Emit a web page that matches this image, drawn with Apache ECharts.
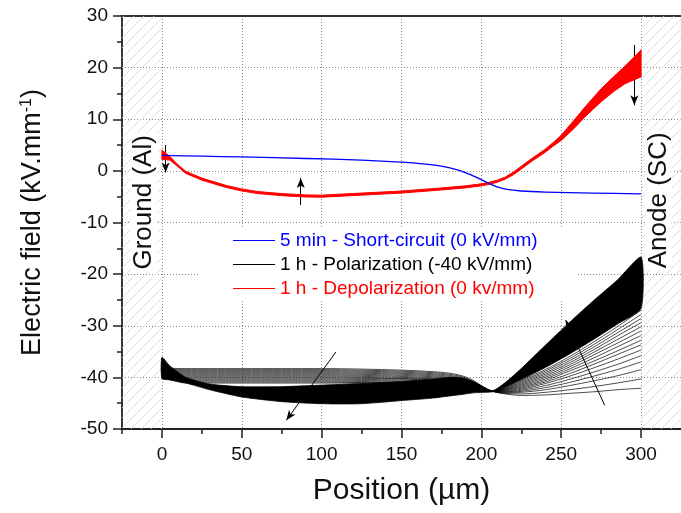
<!DOCTYPE html>
<html><head><meta charset="utf-8">
<script src="https://cdn.jsdelivr.net/npm/echarts@6/dist/echarts.min.js"></script>
<style>html,body{margin:0;padding:0;background:#fff}#c{width:681px;height:513px}</style>
</head><body><div id="c"></div>
<script>
// ---------------- data ----------------
const xTickValues = [0, 50, 100, 150, 200, 250, 300];
const xMinorTickValues = [-25, 25, 75, 125, 175, 225, 275];

const seriesNames = ['5 min - Short-circuit (0 kV/mm)', '1 h - Polarization (-40 kV/mm)', '1 h - Depolarization (0 kv/mm)'];

// 5 min short-circuit (blue)
const blueX = [0, 25, 50, 90, 125, 150, 165, 175, 185, 192, 198, 204, 210, 216, 225, 240, 270, 300];
const blueY = [3.0, 2.85, 2.7, 2.4, 2.1, 1.7, 1.3, 0.9, 0.2, -0.6, -1.4, -2.3, -3.1, -3.6, -3.9, -4.1, -4.3, -4.45];

// 1 h depolarization (red band of curves: upper / lower envelope)
const redX     = [0, 5, 10, 15, 25, 40, 50, 60, 75, 90, 100, 125, 150, 175, 190, 200, 205, 210, 215, 220, 225, 232, 240, 245, 250, 258, 265, 275, 283, 290, 300];
const redUpper = [4.0, 2.8, 1.2, -0.1, -1.4, -2.8, -3.5, -4.0, -4.4, -4.65, -4.7, -4.3, -3.9, -3.3, -2.9, -2.5, -2.2, -1.8, -1.2, -0.25, 0.9, 2.5, 4.2, 5.5, 6.9, 9.8, 12.4, 15.9, 18.3, 20.3, 23.4];
const redLower = [2.2, 2.1, 0.8, -0.5, -1.8, -3.2, -3.9, -4.4, -4.8, -5.05, -5.1, -4.7, -4.3, -3.7, -3.3, -2.9, -2.6, -2.2, -1.6, -0.75, 0.35, 1.95, 3.6, 4.8, 5.9, 8.2, 10.5, 13.4, 15.4, 16.9, 18.2];

// 1 h polarization (black family)
const polX = [0, 5, 15, 30, 50, 75, 100, 125, 150, 170, 180, 188, 195, 201, 207, 215, 225, 240, 255, 270, 285, 300];
// dense core of the family (upper / lower envelope)
const polCoreTop = [-36.1, -37.8, -40.0, -41.3, -41.8, -41.8, -41.5, -41.2, -40.8, -40.3, -40.0, -40.1, -40.8, -41.8, -42.6, -41.0, -38.3, -33.8, -29.4, -25.2, -21.2, -16.7];
const polCoreBottom = [-40.2, -40.5, -41.1, -42.4, -43.8, -44.7, -45.1, -45.1, -44.5, -44.0, -43.6, -43.3, -43.0, -42.9, -42.8, -41.8, -40.4, -38.1, -35.5, -32.7, -29.7, -26.6];
// individually visible curves
const pol01 = [-37.0, -38.2, -38.3, -38.3, -38.3, -38.3, -38.3, -38.4, -38.6, -38.9, -39.2, -39.7, -40.6, -41.8, -42.7, -43.2, -43.5, -43.4, -43.1, -42.8, -42.4, -42.1];
const pol02 = [-37.2, -38.4, -38.5, -38.5, -38.5, -38.5, -38.5, -38.6, -38.8, -39.1, -39.4, -39.9, -40.8, -41.9, -42.7, -43.1, -43.2, -42.9, -42.4, -41.8, -41.1, -40.3];
const pol03 = [-37.4, -38.6, -38.7, -38.7, -38.7, -38.7, -38.7, -38.8, -39.0, -39.3, -39.6, -40.1, -40.9, -42.0, -42.7, -43.0, -42.9, -42.4, -41.6, -40.7, -39.7, -38.5];
const pol04 = [-37.6, -38.8, -38.9, -38.9, -38.9, -38.9, -38.9, -39.0, -39.2, -39.5, -39.8, -40.3, -41.0, -42.0, -42.7, -42.9, -42.7, -42.0, -41.0, -39.8, -38.5, -37.0];
const pol05 = [-37.8, -39.0, -39.1, -39.1, -39.1, -39.1, -39.1, -39.2, -39.4, -39.7, -40.0, -40.4, -41.1, -42.1, -42.7, -42.8, -42.5, -41.6, -40.4, -39.0, -37.5, -35.8];
const pol06 = [-38.0, -39.2, -39.3, -39.3, -39.3, -39.3, -39.3, -39.4, -39.6, -39.9, -40.2, -40.6, -41.2, -42.1, -42.7, -42.7, -42.3, -41.2, -39.8, -38.2, -36.5, -34.7];
const pol07 = [-38.2, -39.4, -39.5, -39.5, -39.5, -39.5, -39.5, -39.6, -39.8, -40.1, -40.4, -40.7, -41.3, -42.2, -42.7, -42.6, -42.1, -40.9, -39.3, -37.5, -35.6, -33.7];
const pol08 = [-38.4, -39.6, -39.7, -39.7, -39.7, -39.7, -39.7, -39.8, -40.0, -40.3, -40.5, -40.9, -41.4, -42.2, -42.7, -42.5, -41.9, -40.6, -38.8, -36.9, -34.9, -32.8];
const pol09 = [-38.6, -39.8, -39.9, -39.9, -39.9, -39.9, -39.9, -40.0, -40.2, -40.4, -40.7, -41.0, -41.5, -42.3, -42.7, -42.4, -41.7, -40.3, -38.4, -36.3, -34.1, -31.9];
const pol10 = [-38.8, -40.0, -40.1, -40.1, -40.1, -40.1, -40.1, -40.2, -40.3, -40.6, -40.8, -41.1, -41.6, -42.3, -42.7, -42.3, -41.5, -40.0, -38.0, -35.7, -33.4, -31.0];
const pol11 = [-39.0, -40.1, -40.3, -40.3, -40.3, -40.3, -40.3, -40.4, -40.5, -40.7, -40.9, -41.2, -41.7, -42.4, -42.7, -42.2, -41.3, -39.7, -37.6, -35.2, -32.7, -30.2];
const pol12 = [-39.2, -40.2, -40.5, -40.5, -40.5, -40.5, -40.5, -40.6, -40.7, -40.9, -41.1, -41.4, -41.8, -42.4, -42.7, -42.1, -41.1, -39.4, -37.2, -34.7, -32.0, -29.4];
const pol13 = [-39.4, -40.3, -40.7, -40.7, -40.7, -40.7, -40.7, -40.8, -40.9, -41.0, -41.2, -41.5, -41.9, -42.5, -42.7, -42.0, -40.9, -39.1, -36.8, -34.2, -31.4, -28.6];
const pol14 = [-39.6, -40.3, -40.9, -40.9, -40.9, -40.9, -40.9, -41.0, -41.0, -41.2, -41.4, -41.6, -42.0, -42.5, -42.7, -41.9, -40.7, -38.8, -36.4, -33.7, -30.8, -27.8];
const pol15 = [-39.8, -40.4, -41.1, -41.1, -41.1, -41.1, -41.1, -41.1, -41.2, -41.3, -41.5, -41.7, -42.1, -42.5, -42.7, -41.8, -40.5, -38.5, -36.0, -33.2, -30.2, -27.0];
const polCurves = [pol01, pol02, pol03, pol04, pol05, pol06, pol07, pol08, pol09, pol10, pol11, pol12, pol13, pol14, pol15];

// arrow annotations [x1, y1, x2, y2] in data units (head at x2,y2)
const arrows = [
  [2.3, 5.0, 2.3, -0.3],
  [86.9, -6.6, 86.9, -1.4],
  [295.8, 24.4, 295.8, 12.7],
  [108.9, -35.1, 77.9, -48.3],
  [277.2, -45.4, 252.8, -28.9]
];
// text annotations [x, y, text]
const sideLabels = [[-11.3, -6.1, 'Ground (Al)'], [311.0, -5.7, 'Anode (SC)']];
const hatchRanges = [[-25, 0], [300, 325]];

// ---------------- chart ----------------
const FONT = 'Liberation Sans, Arial, sans-serif';
const chart = echarts.init(document.getElementById('c'), null, {renderer: 'canvas'});

const pc = document.createElement('canvas');
pc.width = 10; pc.height = 10;
const g = pc.getContext('2d');
g.strokeStyle = '#d6d6d6'; g.lineWidth = 0.8;
g.beginPath();
g.moveTo(0, 10); g.lineTo(10, 0);
g.moveTo(-2, 2); g.lineTo(2, -2);
g.moveTo(8, 12); g.lineTo(12, 8);
g.stroke();

function zip(xs, ys) { return xs.map((x, i) => [x, ys[i]]); }
function bandSeries(name, xs, up, lo, color, z, sw, sm) {
  return {
    type: 'custom', name: name, z: z, silent: true, data: [[xs[0], up[0]]],
    xAxisIndex: 0, yAxisIndex: 0,
    renderItem: function (params, api) {
      const pts = [];
      for (let i = 0; i < xs.length; i++) pts.push(api.coord([xs[i], up[i]]));
      for (let i = xs.length - 1; i >= 0; i--) pts.push(api.coord([xs[i], lo[i]]));
      return {type: 'polygon', shape: {points: pts, smooth: sm}, style: {fill: color, stroke: color, lineWidth: sw, lineJoin: 'round'}};
    }
  };
}

const series = [];
// hatch holder
series.push({
  type: 'line', name: 'decor', data: [], z: 1, silent: true, xAxisIndex: 0, yAxisIndex: 0,
  markArea: {
    silent: true,
    itemStyle: {color: {image: pc, repeat: 'repeat'}, borderWidth: 0},
    data: hatchRanges.map(r => [{xAxis: r[0], yAxis: -50}, {xAxis: r[1], yAxis: 30}])
  }
});
polCurves.forEach(c => series.push({
  type: 'line', name: seriesNames[1], data: zip(polX, c), smooth: 0.3, symbol: 'none', z: 3,
  lineStyle: {color: '#000', width: 0.7}, itemStyle: {color: '#000'}
}));
series.push(bandSeries(seriesNames[1], polX, polCoreTop, polCoreBottom, '#000', 4, 0.8, 0.2));
series.push(bandSeries('redband', redX, redUpper, redLower, '#ff0000', 5, 1.0, 0));
series.push({
  type: 'line', name: seriesNames[2], data: [], symbol: 'none',
  lineStyle: {color: '#ff0000', width: 1}, itemStyle: {color: '#ff0000'}
});
series.push({
  type: 'line', name: seriesNames[0], data: zip(blueX, blueY), smooth: 0.3, symbol: 'none', z: 6,
  lineStyle: {color: '#0000ff', width: 1.3}, itemStyle: {color: '#0000ff'}
});
series.push({
  type: 'line', name: 'arrows', data: [], z: 10, silent: true,
  markLine: {
    silent: true, symbol: ['none', 'arrow'], symbolSize: [6, 10], precision: 4,
    label: {show: false}, emphasis: {disabled: true},
    lineStyle: {color: '#000', width: 1, type: 'solid'},
    data: arrows.map(a => [{coord: [a[0], a[1]]}, {coord: [a[2], a[3]]}])
  }
});

const ICON = 'path://M0 0H42V1H0Z';
chart.setOption({
  animation: false,
  backgroundColor: '#fff',
  textStyle: {fontFamily: FONT},
  grid: {left: 122, right: -6, top: 16, bottom: 84, containLabel: false},
  legend: {
    orient: 'vertical', left: 200, top: 227, padding: [4, 40, 2, 33],
    backgroundColor: '#fff', itemWidth: 42, itemHeight: 14, itemGap: 5,
    selectedMode: false, symbolKeepAspect: true,
    textStyle: {fontFamily: FONT, fontSize: 19},
    data: [
      {name: seriesNames[0], icon: ICON, itemStyle: {color: '#0000ff'}, textStyle: {color: '#0000ff'}},
      {name: seriesNames[1], icon: ICON, itemStyle: {color: '#000'}, textStyle: {color: '#000'}},
      {name: seriesNames[2], icon: ICON, itemStyle: {color: '#ff0000'}, textStyle: {color: '#ff0000'}}
    ]
  },
  xAxis: [
    {
      type: 'value', min: -25, max: 325, position: 'bottom',
      name: 'Position (µm)', nameLocation: 'middle', nameGap: 47,
      nameTextStyle: {fontFamily: FONT, fontSize: 30, color: '#111'},
      axisLine: {show: true, onZero: false, lineStyle: {color: '#222', width: 1.8}},
      axisTick: {show: true, customValues: xTickValues, length: 9, lineStyle: {color: '#222', width: 1.5}},
      axisLabel: {customValues: xTickValues, fontSize: 19, color: '#111', margin: 16, fontFamily: FONT},
      splitLine: {show: true, lineStyle: {color: '#8a8a8a', width: 1, type: [1, 2]}}
    },
    {
      type: 'value', min: -25, max: 325, position: 'top',
      axisLine: {show: true, onZero: false, lineStyle: {color: '#333', width: 1.8}},
      axisTick: {show: false}, axisLabel: {show: false}, splitLine: {show: false}
    },
    {
      type: 'value', min: -25, max: 325, position: 'bottom',
      axisLine: {show: false, onZero: false},
      axisTick: {show: true, customValues: xMinorTickValues, length: 5, lineStyle: {color: '#222', width: 1.5}},
      axisLabel: {show: false}, splitLine: {show: false}
    }
  ],
  yAxis: [
    {
      type: 'value', min: -50, max: 30, interval: 10, position: 'left',
      name: 'Electric field (kV.mm{sup|-1})', nameLocation: 'middle', nameGap: 76, nameRotate: 90,
      nameTextStyle: {fontFamily: FONT, fontSize: 27, color: '#111',
        rich: {sup: {fontFamily: FONT, fontSize: 16, color: '#111', verticalAlign: 'top', padding: [0, 0, 10, 0]}}},
      axisLine: {show: true, onZero: false, lineStyle: {color: '#222', width: 1.8}},
      axisTick: {show: true, length: 9, lineStyle: {color: '#222', width: 1.5}},
      minorTick: {show: true, splitNumber: 2, length: 5, lineStyle: {color: '#222', width: 1.5}},
      axisLabel: {fontSize: 19, color: '#111', margin: 14, fontFamily: FONT},
      splitLine: {show: true, lineStyle: {color: '#8a8a8a', width: 1, type: [1, 2]}}
    }
  ],
  series: series
});

const graphics = sideLabels.map(s => {
  const p = chart.convertToPixel({xAxisIndex: 0, yAxisIndex: 0}, [s[0], s[1]]);
  return {
    type: 'text', x: p[0], y: p[1], rotation: Math.PI / 2, z: 20,
    style: {text: s[2], font: '26px ' + FONT, fill: '#111', align: 'center', verticalAlign: 'middle',
      backgroundColor: '#fff', padding: [0, 2]}
  };
});
chart.setOption({graphic: graphics});
</script>
</body></html>
